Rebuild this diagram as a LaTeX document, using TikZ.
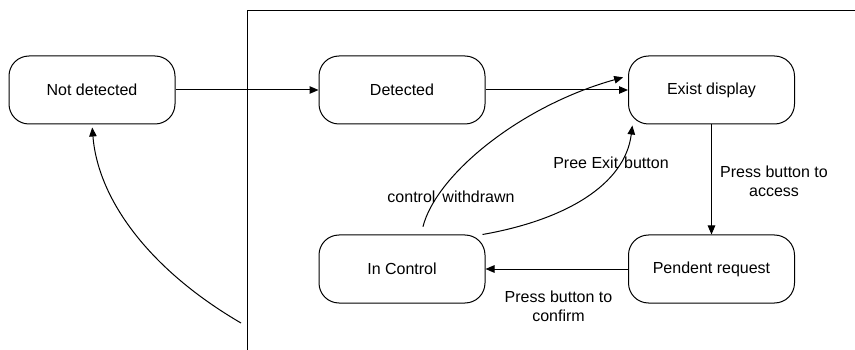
\documentclass[tikz,border=0pt]{standalone}
\usepackage{fontspec}
\setmainfont{Liberation Sans}
\usetikzlibrary{arrows.meta}
\begin{document}
\begin{tikzpicture}[x=1pt,y=-1pt,
  state/.style={draw, line width=1pt, rounded corners=20pt, minimum width=166pt, minimum height=68pt, inner sep=0pt, font=\fontsize{16}{19}\selectfont},
  lbl/.style={align=center, inner sep=0pt, font=\fontsize{16}{19}\selectfont},
  conn/.style={line width=1pt, -{Triangle[length=9pt,width=7.5pt]}}]
\useasboundingbox (0,0) rectangle (855,350);
\draw[line width=1pt] (247,351) -- (247,11) -- (856,11);
\node[state] (nd) at (92,90) {Not detected};
\node[state] (det) at (402,90) {Detected};
\node[state] (ex) at (711.5,90) {Exist display};
\node[state] (pr) at (711.5,269) {Pendent request};
\node[state] (ic) at (402,269) {In Control};
\coordinate (back) at (241,323);
\draw[conn] (nd.east) -- (det.west);
\draw[conn] (det.east) -- (ex.west);
\draw[conn] (ex.south) -- (pr.north);
\draw[conn] (pr.west) -- (ic.west -| ic.east);
\draw[conn, shorten <=8pt, shorten >=5pt] ([xshift=19pt]ic.north) .. controls (436,175) and (520,106) .. ([yshift=14pt]ex.west);
\draw[conn, shorten >=1pt] ([xshift=-3pt]ic.north east) .. controls (565,220) and (625,185) .. ([xshift=-79pt]ex.south);
\draw[conn, shorten >=3pt] (back) .. controls (150,270) and (98,200) .. (nd.south);
\node[lbl] (l1) at (451,197) {control\hspace{7pt}withdrawn};
\node[lbl] (l2) at (611,163) {Pree Exit\hspace{6pt}button};
\node[lbl] (l3) at (774,181) {Press button to\\access};
\node[lbl] (l4) at (558.5,306) {Press button to\\confirm};
\end{tikzpicture}
\end{document}
